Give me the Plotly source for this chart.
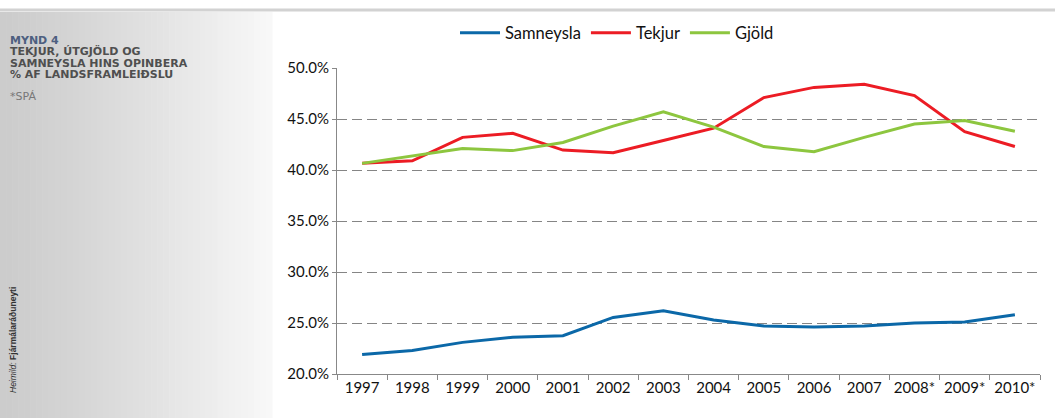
import plotly.graph_objects as go

years = ["1997", "1998", "1999", "2000", "2001", "2002", "2003", "2004",
         "2005", "2006", "2007", "2008*", "2009*", "2010*"]
samneysla = [21.9, 22.3, 23.1, 23.6, 23.75, 25.55, 26.2, 25.3, 24.7, 24.6, 24.7, 25.0, 25.1, 25.8]
tekjur = [40.65, 40.9, 43.2, 43.6, 41.95, 41.7, 42.9, 44.1, 47.1, 48.1, 48.4, 47.3, 43.75, 42.3]
gjold = [40.65, 41.4, 42.1, 41.9, 42.7, 44.3, 45.7, 44.2, 42.3, 41.8, 43.2, 44.5, 44.85, 43.8]

W, H = 1055, 418
L, R, T, B = 337, 15, 68, 44
PW, PH = W - L - R, H - T - B

def px(x):
    return (x - L) / PW

def py(y):
    return (H - B - y) / PH

fig = go.Figure()
fig.add_trace(go.Scatter(x=years, y=samneysla, name="Samneysla", mode="lines",
                         line=dict(color="#0B68A8", width=3)))
fig.add_trace(go.Scatter(x=years, y=tekjur, name="Tekjur", mode="lines",
                         line=dict(color="#EC1C24", width=3)))
fig.add_trace(go.Scatter(x=years, y=gjold, name="Gjöld", mode="lines",
                         line=dict(color="#8DC63F", width=3)))

shapes = []
# left gradient panel
n = 45
x0, x1 = 0, 272
c0, c1 = 204, 248
for i in range(n):
    a = x0 + (x1 - x0) * i / n
    b = x0 + (x1 - x0) * (i + 1) / n + 0.6
    c = int(round(c0 + (c1 - c0) * (i / (n - 1)) ** 1.2))
    shapes.append(dict(type="rect", xref="paper", yref="paper",
                       x0=px(a), x1=px(b), y0=py(H), y1=py(12),
                       fillcolor=f"rgb({c},{c},{c})", line=dict(width=0), layer="below"))
# top border line
shapes.append(dict(type="line", xref="paper", yref="paper", x0=px(0), x1=px(W),
                   y0=py(10), y1=py(10), line=dict(color="#d2d2d2", width=3)))

annotations = []
lines = [("<b>MYND 4</b>", 40, "#4d5f80"),
         ("<b>TEKJUR, ÚTGJÖLD OG</b>", 51.5, "#4f4f4f"),
         ("<b>SAMNEYSLA HINS OPINBERA</b>", 63, "#4f4f4f"),
         ("<b>% AF LANDSFRAMLEIÐSLU</b>", 74.5, "#4f4f4f"),
         ("*SPÁ", 96, "#777777")]
for t, y, col in lines:
    annotations.append(dict(text=t, xref="paper", yref="paper", x=px(8), y=py(y),
                            xanchor="left", yanchor="middle", showarrow=False,
                            font=dict(family="DejaVu Sans", size=11, color=col)))
annotations.append(dict(text="<i>Heimild:</i> <b>Fjármálaráðuneyti</b>", xref="paper", yref="paper",
                        x=px(13), y=py(340), textangle=-90, xanchor="center", yanchor="middle",
                        showarrow=False, font=dict(family="Liberation Sans", size=8.5, color="#333333")))

fig.update_layout(
    width=W, height=H,
    margin=dict(l=L, r=R, t=T, b=B, autoexpand=False),
    paper_bgcolor="white", plot_bgcolor="white",
    font=dict(family="Lato", size=15, color="#111111"),
    showlegend=True,
    legend=dict(orientation="h", x=px(617), y=py(33), xanchor="center", yanchor="middle",
                font=dict(family="Lato", size=16.5, color="#111111"),
                itemwidth=40, tracegroupgap=0, bgcolor="rgba(0,0,0,0)"),
    shapes=shapes,
    annotations=annotations,
    xaxis=dict(type="category", range=[-0.5, 13.5], showgrid=False, showline=True,
               linecolor="#888888", linewidth=1, automargin=False,
               ticks="outside", tickson="boundaries", ticklen=5, tickcolor="#888888",
               tickfont=dict(family="Lato", size=15, color="#111111"), zeroline=False),
    yaxis=dict(range=[20, 50], dtick=5, tickformat=".1f", ticksuffix="%", automargin=False,
               showgrid=True, gridcolor="#858585", griddash="10px,5px", gridwidth=1,
               showline=True, linecolor="#888888", linewidth=1, ticks="outside", ticklen=4,
               tickcolor="#888888", zeroline=False,
               tickfont=dict(family="Lato", size=15, color="#111111")),
)

fig.write_html("out.html", config={"displayModeBar": False},
               post_script="document.body.style.margin='0';")
